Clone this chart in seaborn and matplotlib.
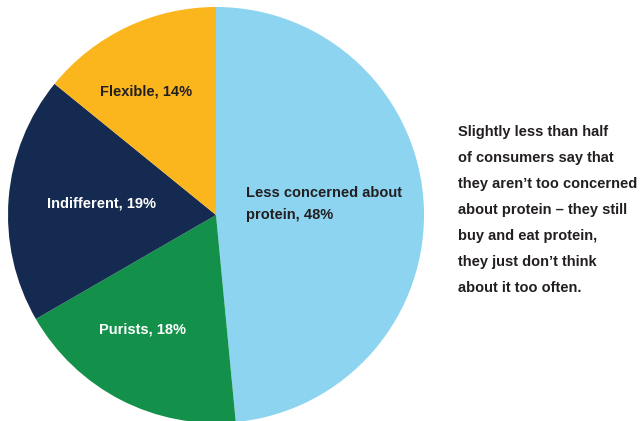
import matplotlib
matplotlib.use("Agg")
import matplotlib.pyplot as plt
import seaborn as sns

sns.set_theme(style="white")
plt.rcParams["font.family"] = ["Liberation Sans", "DejaVu Sans"]

categories = ["Less concerned about\nprotein", "Purists", "Indifferent", "Flexible"]
values = [48, 18, 19, 14]
colors = ["#8cd4f0", "#13914a", "#142a50", "#fbb51d"]
note_lines = [
    "Slightly less than half",
    "of consumers say that",
    "they aren\u2019t too concerned",
    "about protein \u2013 they still",
    "buy and eat protein,",
    "they just don\u2019t think",
    "about it too often.",
]

W, H = 644, 421
fig = plt.figure(figsize=(W / 100, H / 100), dpi=100)
ax = fig.add_axes([0, 0, 1, 1])
ax.set_xlim(0, W)
ax.set_ylim(0, H)
ax.axis("off")

cx, cy, r = 216, H - 215, 208
ax.pie(values, colors=colors, startangle=90, counterclock=False,
       center=(cx, cy), radius=r, frame=True,
       wedgeprops=dict(linewidth=0))
ax.set_xlim(0, W)
ax.set_ylim(0, H)
ax.axis("off")

dark = "#231f20"
fs = 10.5
labels = [f"{c}, {v}%" for c, v in zip(categories, values)]
ax.text(246, H - 204, labels[0], ha="left", va="center", color=dark,
        fontsize=fs, fontweight="bold", linespacing=1.75)
ax.text(143, H - 329, labels[1], ha="center", va="center", color="white",
        fontsize=fs, fontweight="bold")
ax.text(102, H - 204, labels[2], ha="center", va="center", color="white",
        fontsize=fs, fontweight="bold")
ax.text(146, H - 91, labels[3], ha="center", va="center", color=dark,
        fontsize=fs, fontweight="bold")

for i, line in enumerate(note_lines):
    ax.text(458, H - (132 + 26 * i), line, ha="left", va="center",
            color=dark, fontsize=fs, fontweight="bold")

fig.savefig("out.png", dpi=100)
